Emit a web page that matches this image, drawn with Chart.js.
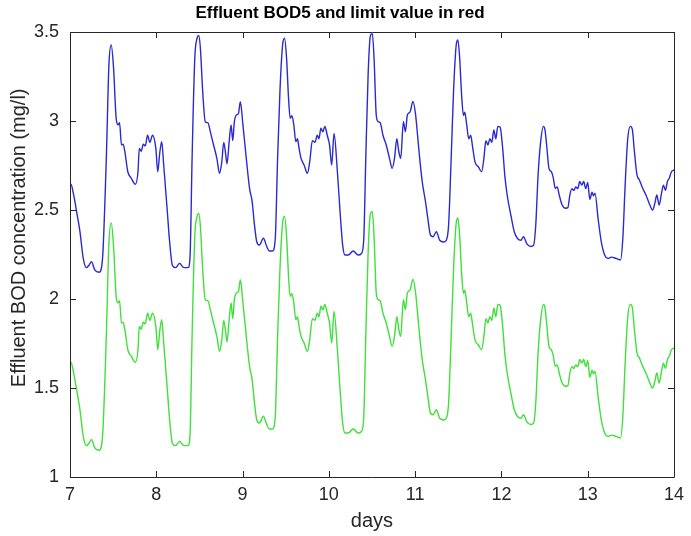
<!DOCTYPE html>
<html>
<head>
<meta charset="utf-8">
<script src="https://cdn.jsdelivr.net/npm/chart.js@4.4.1/dist/chart.umd.min.js"></script>
<style>
  html, body { margin: 0; padding: 0; background: #ffffff; }
  canvas { display: block; }
</style>
</head>
<body>
<canvas id="grafico" width="691" height="536"></canvas>
<script>
// dias (eje x)
const days = [
  7.000, 7.011, 7.040, 7.077, 7.115, 7.153, 7.191, 7.220, 7.249, 7.287,
  7.337, 7.363, 7.382, 7.421, 7.451, 7.478, 7.505, 7.535, 7.558, 7.574,
  7.597, 7.615, 7.635, 7.670, 7.708, 7.757, 7.788, 7.803, 7.826, 7.849,
  7.872, 7.899, 7.926, 7.956, 7.995, 8.017, 8.040, 8.063, 8.086, 8.128,
  8.155, 8.186, 8.224, 8.270, 8.320, 8.369, 8.392, 8.415, 8.446, 8.473,
  8.492, 8.511, 8.538, 8.568, 8.599, 8.626, 8.664, 8.702, 8.733, 8.759,
  8.782, 8.805, 8.820, 8.844, 8.867, 8.886, 8.905, 8.928, 8.951, 8.974,
  9.004, 9.043, 9.081, 9.111, 9.138, 9.165, 9.195, 9.241, 9.280, 9.310,
  9.348, 9.379, 9.406, 9.433, 9.464, 9.487, 9.510, 9.533, 9.552, 9.571,
  9.594, 9.617, 9.636, 9.655, 9.678, 9.713, 9.751, 9.778, 9.809, 9.839,
  9.866, 9.885, 9.908, 9.931, 9.954, 9.981, 10.008, 10.033, 10.060, 10.099,
  10.130, 10.160, 10.187, 10.225, 10.282, 10.340, 10.378, 10.405, 10.428, 10.455,
  10.482, 10.504, 10.524, 10.550, 10.573, 10.596, 10.627, 10.665, 10.703, 10.734,
  10.761, 10.788, 10.810, 10.833, 10.864, 10.887, 10.910, 10.940, 10.975, 11.004,
  11.045, 11.082, 11.120, 11.147, 11.177, 11.208, 11.246, 11.285, 11.330, 11.361,
  11.388, 11.415, 11.445, 11.476, 11.495, 11.514, 11.541, 11.560, 11.575, 11.598,
  11.621, 11.644, 11.663, 11.694, 11.732, 11.770, 11.797, 11.820, 11.843, 11.866,
  11.889, 11.912, 11.935, 11.958, 11.985, 12.013, 12.040, 12.068, 12.110, 12.149,
  12.187, 12.226, 12.256, 12.295, 12.340, 12.371, 12.398, 12.425, 12.455, 12.486,
  12.505, 12.524, 12.551, 12.578, 12.601, 12.624, 12.647, 12.670, 12.704, 12.743,
  12.770, 12.793, 12.816, 12.839, 12.862, 12.885, 12.908, 12.931, 12.954, 12.977,
  13.000, 13.025, 13.050, 13.067, 13.085, 13.120, 13.158, 13.197, 13.235, 13.273,
  13.330, 13.380, 13.407, 13.434, 13.464, 13.495, 13.518, 13.541, 13.571, 13.598,
  13.637, 13.675, 13.713, 13.752, 13.778, 13.801, 13.828, 13.855, 13.878, 13.901,
  13.924, 13.947, 13.970, 14.000
];

// serie azul
const bodBlue = [
  2.64, 2.645, 2.59, 2.49, 2.38, 2.23, 2.176, 2.19, 2.21, 2.163,
  2.15, 2.17, 2.266, 2.79, 3.315, 3.427, 3.296, 3.015, 2.978, 2.99,
  2.865, 2.87, 2.83, 2.715, 2.68, 2.645, 2.715, 2.846, 2.83, 2.87,
  2.86, 2.92, 2.88, 2.92, 2.846, 2.715, 2.82, 2.884, 2.753, 2.49,
  2.32, 2.19, 2.176, 2.20, 2.176, 2.176, 2.247, 2.79, 3.35, 3.465,
  3.48, 3.41, 3.165, 2.996, 2.99, 2.94, 2.865, 2.79, 2.706, 2.77,
  2.88, 2.81, 2.76, 2.88, 2.978, 2.89, 2.996, 3.034, 3.04, 3.108,
  2.98, 2.79, 2.622, 2.547, 2.416, 2.32, 2.303, 2.341, 2.295, 2.27,
  2.27, 2.34, 2.79, 3.165, 3.427, 3.465, 3.352, 3.127, 3.015, 3.03,
  2.978, 2.884, 2.90, 2.846, 2.79, 2.753, 2.706, 2.77, 2.89, 2.88,
  2.92, 2.90, 2.96, 2.94, 2.97, 2.92, 2.865, 2.753, 2.93, 2.715,
  2.49, 2.303, 2.247, 2.247, 2.27, 2.247, 2.256, 2.34, 2.79, 3.258,
  3.48, 3.49, 3.35, 3.03, 2.996, 2.99, 2.92, 2.865, 2.79, 2.734,
  2.79, 2.90, 2.83, 2.79, 2.996, 2.94, 3.034, 3.05, 3.11, 3.04,
  2.83, 2.66, 2.547, 2.453, 2.36, 2.35, 2.378, 2.33, 2.32, 2.33,
  2.416, 2.753, 3.165, 3.427, 3.455, 3.37, 3.127, 3.03, 3.05, 2.978,
  2.90, 2.92, 2.865, 2.77, 2.743, 2.715, 2.79, 2.89, 2.865, 2.90,
  2.88, 2.95, 2.90, 2.97, 2.965, 2.855, 2.69, 2.58, 2.47, 2.378,
  2.34, 2.33, 2.35, 2.31, 2.295, 2.30, 2.416, 2.697, 2.884, 2.97,
  2.95, 2.865, 2.734, 2.715, 2.68, 2.622, 2.63, 2.584, 2.528, 2.51,
  2.513, 2.584, 2.62, 2.61, 2.63, 2.62, 2.66, 2.64, 2.66, 2.62,
  2.655, 2.56, 2.60, 2.58, 2.595, 2.453, 2.32, 2.247, 2.228, 2.235,
  2.228, 2.22, 2.34, 2.64, 2.90, 2.97, 2.95, 2.83, 2.697, 2.67,
  2.622, 2.584, 2.537, 2.50, 2.537, 2.584, 2.528, 2.593, 2.64, 2.61,
  2.66, 2.68, 2.715, 2.725
];

// serie verde
const bodGreen = [
  1.64, 1.645, 1.59, 1.49, 1.38, 1.23, 1.176, 1.19, 1.21, 1.163,
  1.15, 1.17, 1.266, 1.79, 2.315, 2.427, 2.296, 2.015, 1.978, 1.99,
  1.865, 1.87, 1.83, 1.715, 1.68, 1.645, 1.715, 1.846, 1.83, 1.87,
  1.86, 1.92, 1.88, 1.92, 1.846, 1.715, 1.82, 1.884, 1.753, 1.49,
  1.32, 1.19, 1.176, 1.20, 1.176, 1.176, 1.247, 1.79, 2.35, 2.465,
  2.48, 2.41, 2.165, 1.996, 1.99, 1.94, 1.865, 1.79, 1.706, 1.77,
  1.88, 1.81, 1.76, 1.88, 1.978, 1.89, 1.996, 2.034, 2.04, 2.108,
  1.98, 1.79, 1.622, 1.547, 1.416, 1.32, 1.303, 1.341, 1.295, 1.27,
  1.27, 1.34, 1.79, 2.165, 2.427, 2.465, 2.352, 2.127, 2.015, 2.03,
  1.978, 1.884, 1.90, 1.846, 1.79, 1.753, 1.706, 1.77, 1.89, 1.88,
  1.92, 1.90, 1.96, 1.94, 1.97, 1.92, 1.865, 1.753, 1.93, 1.715,
  1.49, 1.303, 1.247, 1.247, 1.27, 1.247, 1.256, 1.34, 1.79, 2.258,
  2.48, 2.49, 2.35, 2.03, 1.996, 1.99, 1.92, 1.865, 1.79, 1.734,
  1.79, 1.90, 1.83, 1.79, 1.996, 1.94, 2.034, 2.05, 2.11, 2.04,
  1.83, 1.66, 1.547, 1.453, 1.36, 1.35, 1.378, 1.33, 1.32, 1.33,
  1.416, 1.753, 2.165, 2.427, 2.455, 2.37, 2.127, 2.03, 2.05, 1.978,
  1.90, 1.92, 1.865, 1.77, 1.743, 1.715, 1.79, 1.89, 1.865, 1.90,
  1.88, 1.95, 1.90, 1.97, 1.965, 1.855, 1.69, 1.58, 1.47, 1.378,
  1.34, 1.33, 1.35, 1.31, 1.295, 1.30, 1.416, 1.697, 1.884, 1.97,
  1.95, 1.865, 1.734, 1.715, 1.68, 1.622, 1.63, 1.584, 1.528, 1.51,
  1.513, 1.584, 1.62, 1.61, 1.63, 1.62, 1.66, 1.64, 1.66, 1.62,
  1.655, 1.56, 1.60, 1.58, 1.595, 1.453, 1.32, 1.247, 1.228, 1.235,
  1.228, 1.22, 1.34, 1.64, 1.90, 1.97, 1.95, 1.83, 1.697, 1.67,
  1.622, 1.584, 1.537, 1.50, 1.537, 1.584, 1.528, 1.593, 1.64, 1.61,
  1.66, 1.68, 1.715, 1.725
];

// ticks
const xTicks = [7, 8, 9, 10, 11, 12, 13, 14];
const yTicks = [1, 1.5, 2, 2.5, 3, 3.5];

const fuente = "'Liberation Sans', Arial, Helvetica, sans-serif";
const ejeColor = '#262626';

// caja tipo matlab con ticks hacia adentro
const cajaPlugin = {
    id: 'caja',
    afterDraw(chart) {
        const ctx = chart.ctx;
        const a = chart.chartArea;
        const sx = chart.scales.x;
        const sy = chart.scales.y;
        const L = 6;
        ctx.save();
        ctx.strokeStyle = ejeColor;
        ctx.lineWidth = 1;
        ctx.beginPath();
        ctx.rect(Math.round(a.left) + 0.5, Math.round(a.top) + 0.5,
                 Math.round(a.right - a.left), Math.round(a.bottom - a.top));
        xTicks.forEach(function (v) {
            const px = Math.round(sx.getPixelForValue(v)) + 0.5;
            ctx.moveTo(px, a.bottom); ctx.lineTo(px, a.bottom - L);
            ctx.moveTo(px, a.top); ctx.lineTo(px, a.top + L);
        });
        yTicks.forEach(function (v) {
            const py = Math.round(sy.getPixelForValue(v)) + 0.5;
            ctx.moveTo(a.left, py); ctx.lineTo(a.left + L, py);
            ctx.moveTo(a.right, py); ctx.lineTo(a.right - L, py);
        });
        ctx.stroke();
        ctx.restore();
    }
};

const data = {
    datasets: [
        {
            label: 'azul',
            data: days.map(function (d, i) { return { x: d, y: bodBlue[i] }; }),
            borderColor: '#2a2ad0',
            borderWidth: 1.4,
            pointRadius: 0,
            cubicInterpolationMode: 'monotone',
            fill: false
        },
        {
            label: 'verde',
            data: days.map(function (d, i) { return { x: d, y: bodGreen[i] }; }),
            borderColor: '#3fe03a',
            borderWidth: 1.4,
            pointRadius: 0,
            cubicInterpolationMode: 'monotone',
            fill: false
        }
    ]
};

const config = {
    type: 'line',
    data: data,
    options: {
        responsive: false,
        animation: false,
        layout: { padding: { left: 0, right: 11, top: 0, bottom: 0 } },
        plugins: {
            legend: { display: false },
            tooltip: { enabled: false },
            title: {
                display: true,
                text: 'Effluent BOD5 and limit value in red',
                color: '#000000',
                font: { family: fuente, size: 17, weight: 'bold' },
                padding: { top: 3, bottom: 8.6 }
            }
        },
        scales: {
            x: {
                type: 'linear',
                min: 7,
                max: 14,
                afterFit: function (s) { s.height = 59; },
                afterBuildTicks: function (s) { s.ticks = xTicks.map(function (v) { return { value: v }; }); },
                grid: { display: false, drawTicks: false },
                border: { display: false },
                ticks: {
                    color: ejeColor,
                    padding: 7,
                    maxRotation: 0,
                    font: { family: fuente, size: 18 },
                    callback: function (v) { return String(v); }
                },
                title: {
                    display: true,
                    text: 'days',
                    color: ejeColor,
                    font: { family: fuente, size: 20 },
                    padding: { top: 0, bottom: 3 }
                }
            },
            y: {
                type: 'linear',
                min: 1,
                max: 3.5,
                afterFit: function (s) { s.width = 70; },
                afterBuildTicks: function (s) { s.ticks = yTicks.map(function (v) { return { value: v }; }); },
                grid: { display: false, drawTicks: false },
                border: { display: false },
                ticks: {
                    color: ejeColor,
                    padding: 11,
                    font: { family: fuente, size: 18 },
                    callback: function (v) { return String(v); }
                },
                title: {
                    display: true,
                    // espacios al inicio para subir un poco la etiqueta
                    text: '      Effluent BOD concentration (mg/l)',
                    color: ejeColor,
                    font: { family: fuente, size: 20 },
                    padding: { top: 7, bottom: 0 }
                }
            }
        }
    },
    plugins: [cajaPlugin]
};

new Chart(document.querySelector('#grafico'), config);
</script>
</body>
</html>
